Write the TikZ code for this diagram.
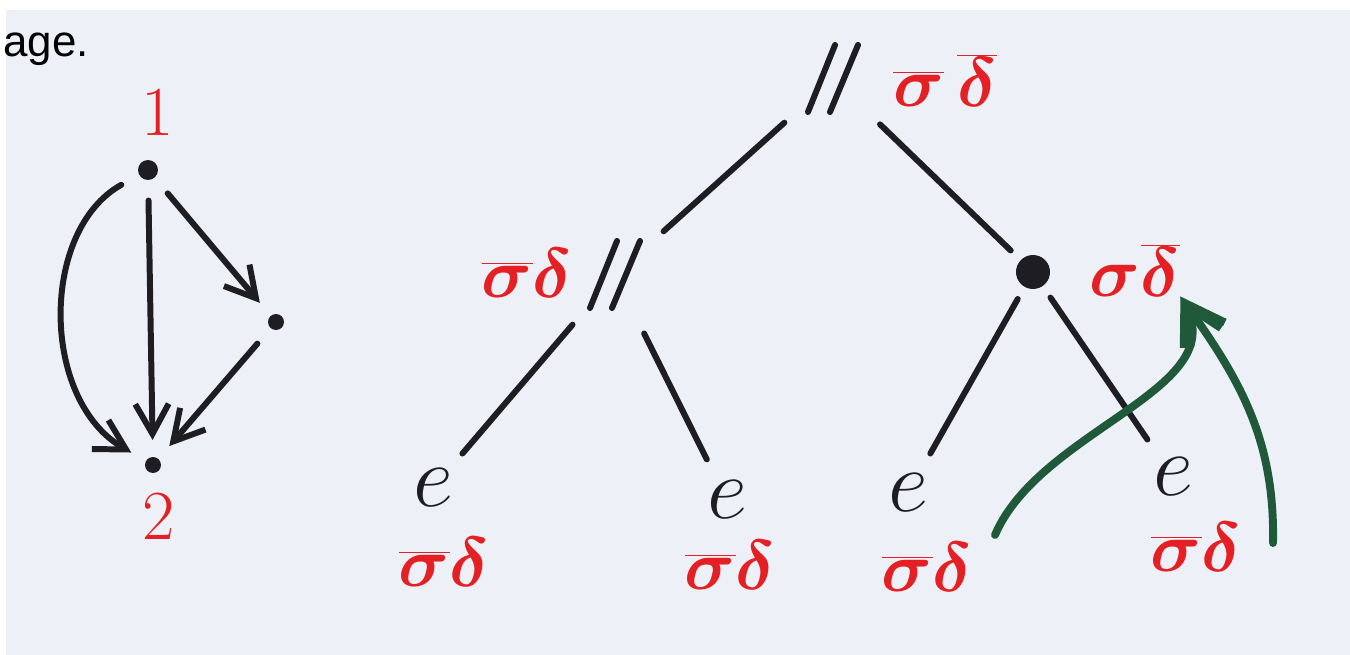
\documentclass[tikz,border=0pt]{standalone}
\usepackage{fix-cm}
\usepackage{fontspec}
\usepackage{xcolor}
\usepackage{tikz}
\usetikzlibrary{arrows.meta, positioning}
\newfontfamily\slidefont{Liberation Sans}
\definecolor{paperblue}{RGB}{237, 240, 246}
\definecolor{penred}{RGB}{228, 32, 36}
\definecolor{pengreen}{RGB}{32, 88, 58}
\definecolor{penblack}{RGB}{30, 30, 34}

\tikzset{
  lab/.style={text=penred, inner sep=0pt, font=\fontsize{40}{48}\selectfont\boldmath},
  dagdot/.style={circle, fill=penblack, inner sep=0pt, minimum size=#1, outer sep=0.2cm},
  dagarrow/.style={draw=penblack, line width=3.4pt, line cap=round,
    -{Straight Barb[length=17pt, width=19pt, line width=3.4pt]},
    shorten <=6pt, shorten >=4pt},
  parnode/.style={circle, inner sep=0pt, minimum size=2.6cm},
  seqdot/.style={circle, fill=penblack, inner sep=0pt, minimum size=0.68cm, outer sep=0.28cm},
  leaf/.style={circle, inner sep=0pt, minimum size=1.8cm, text=penblack,
    font=\fontsize{50}{60}\selectfont},
  branch/.style={draw=penblack, line width=3.4pt, line cap=round},
  swaparrow/.style={draw=pengreen, line width=4.5pt, line cap=round,
    -{Straight Barb[length=22pt, width=24pt, line width=4.5pt]}}
}
\newcommand{\parstrokes}[1]{%
  \draw[branch] ([shift={(-25,33)}]#1.center) -- ([shift={(2,-34)}]#1.center);
  \draw[branch] ([shift={(-3,33)}]#1.center) -- ([shift={(25,-34)}]#1.center);}

\begin{document}
\begin{tikzpicture}[x=0.02cm, y=-0.02cm]
    \useasboundingbox (0,0) rectangle (1350,655);
    \fill[white] (0,0) rectangle (1350,655);
    \fill[paperblue] (6,10) rectangle (1350,655);
    \node[anchor=base west, inner sep=0pt, font=\slidefont\fontsize{25}{30}\selectfont] (page) at (3,57) {age.};

    % left graph
    \node[lab] (one) at (158,112) {1};
    \node[dagdot=0.4cm] (top) at (148,170) {};
    \node[dagdot=0.32cm] (mid) at (276,322) {};
    \node[dagdot=0.32cm] (bot) at (153,465) {};
    \node[lab] (two) at (159,516) {2};
    \draw[dagarrow] (top) -- (bot);
    \draw[dagarrow] (top) .. controls (40,230) and (40,400) .. (bot);
    \draw[dagarrow] (top) -- (mid);
    \draw[dagarrow] (mid) -- (bot);

    % tree
    \node[parnode] (root) at (833,79) {};
    \node[parnode] (lpar) at (615,275) {};
    \node[seqdot] (rseq) at (1033,272) {};
    \parstrokes{root}
    \parstrokes{lpar}
    \node[lab] (rootlab) at (945,80) {$\overline{\sigma}\,\overline{\delta}$};
    \node[lab] (lparlab) at (527,273) {$\overline{\sigma}\delta$};
    \node[lab] (rseqlab) at (1135,270) {$\sigma\overline{\delta}$};

    \node[leaf] (e1) at (433,488) {$e$};
    \node[leaf] (e2) at (727,500) {$e$};
    \node[leaf] (e3) at (908,493) {$e$};
    \node[leaf] (e4) at (1173,477) {$e$};
    \node[lab] (e1lab) at (444,562) {$\overline{\sigma}\delta$};
    \node[lab] (e2lab) at (730,565) {$\overline{\sigma}\delta$};
    \node[lab] (e3lab) at (927,567) {$\overline{\sigma}\delta$};
    \node[lab] (e4lab) at (1196,547) {$\overline{\sigma}\delta$};

    \draw[branch] (root) -- (lpar);
    \draw[branch] (root) -- (rseq);
    \draw[branch] (lpar) -- (e1);
    \draw[branch] (lpar) -- (e2);
    \draw[branch] (rseq) -- (e3);
    \draw[branch] (rseq) -- (e4);

    % green arrows
    \coordinate (gstart1) at (995,535);
    \coordinate (gstart2) at (1273,543);
    \draw[swaparrow] (gstart1) .. controls (1040,430) and (1230,390) .. (rseqlab.south east);
    \draw[swaparrow] (gstart2) .. controls (1275,440) and (1240,380) .. (rseqlab.south east);
\end{tikzpicture}
\end{document}
